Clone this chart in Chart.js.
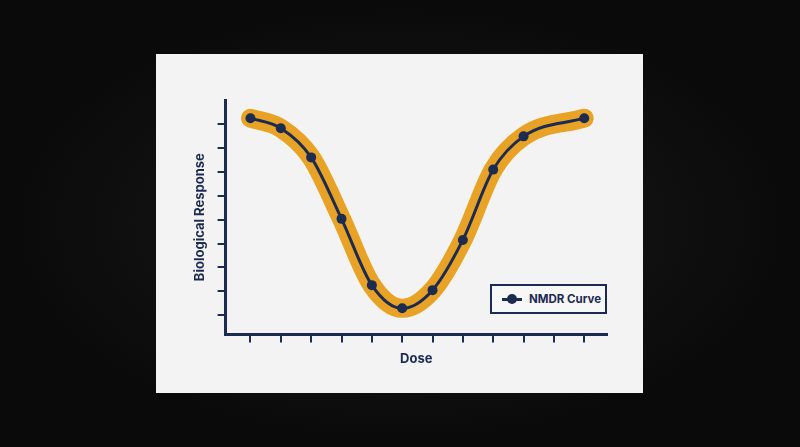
<!DOCTYPE html>
<html>
<head>
<meta charset="utf-8">
<script src="https://cdn.jsdelivr.net/npm/chart.js@4.4.1/dist/chart.umd.min.js"></script>
<style>
  html, body { margin: 0; padding: 0; width: 800px; height: 447px; overflow: hidden;
    background: radial-gradient(ellipse at center, #1a1a1a 0%, #0a0a0a 70%); font-family: Inter, sans-serif; }
  .card { position: absolute; left: 156px; top: 54px; width: 487px; height: 339px; background: #f3f3f4; }
  canvas { position: absolute; left: 0; top: 0; }
  .legend { position: absolute; left: 334px; top: 230px; width: 113px; height: 26px;
    border: 2px solid #1c2b52; background: #f7f7f8; display: flex; align-items: center; white-space: nowrap;
    font-size: 11.5px; font-weight: 700; color: #1c2b52; }
  .legend .sw { position: relative; flex: none; width: 20px; height: 3px; background: #1c2b52; margin: 0 7px 0 10px; }
  .legend .sw::after { content: ''; position: absolute; left: 5px; top: -4px; width: 10px; height: 10px;
    border-radius: 50%; background: #1c2b52; }
</style>
</head>
<body>
<div class="card">
  <canvas id="chart" width="487" height="339"></canvas>
  <div class="legend"><span class="sw"></span>NMDR Curve</div>
</div>
<script>
  const doses = [0, 1, 2, 3, 4, 5, 6, 7, 8, 9, 11];
  const responses = [9.24, 8.82, 7.6, 5.03, 2.26, 1.29, 2.05, 4.15, 7.09, 8.48, 9.24];
  const xTicks = [0, 1, 2, 3, 4, 5, 6, 7, 8, 9, 10, 11];
  const yTicks = [1, 2, 3, 4, 5, 6, 7, 8, 9];

  const navy = '#1c2b52';
  const orange = '#e8a326';
  const points = doses.map((d, i) => ({ x: d, y: responses[i] }));

  const ctx = document.getElementById('chart').getContext('2d');
  new Chart(ctx, {
    type: 'line',
    data: {
      datasets: [
        { data: points, borderColor: navy, borderWidth: 3, cubicInterpolationMode: 'monotone',
          pointRadius: 5, pointBackgroundColor: navy, pointBorderWidth: 0, order: 0 },
        { data: points, borderColor: orange, borderWidth: 19, cubicInterpolationMode: 'monotone',
          pointRadius: 0, borderCapStyle: 'round', borderJoinStyle: 'round', order: 1 }
      ]
    },
    options: {
      responsive: false,
      animation: false,
      layout: { padding: { left: 32, right: 36, top: 46, bottom: 22 } },
      plugins: { legend: { display: false }, tooltip: { enabled: false } },
      scales: {
        x: {
          type: 'linear', min: -0.82, max: 11.75,
          afterBuildTicks: s => { s.ticks = xTicks.map(v => ({ value: v })); },
          ticks: { display: false },
          grid: { drawOnChartArea: false, drawTicks: true, tickLength: 8, color: navy, lineWidth: 2 },
          border: { color: navy, width: 3 },
          title: { display: true, text: 'Dose', color: navy, font: { family: 'Inter', size: 13, weight: 'bold' }, padding: { top: 9 } }
        },
        y: {
          min: 0.2, max: 10,
          afterBuildTicks: s => { s.ticks = yTicks.map(v => ({ value: v })); },
          ticks: { display: false },
          grid: { drawOnChartArea: false, drawTicks: true, tickLength: 8, color: navy, lineWidth: 2 },
          border: { color: navy, width: 3 },
          title: { display: true, text: 'Biological Response', color: navy, font: { family: 'Inter', size: 13, weight: 'bold' }, padding: { bottom: 10 } }
        }
      }
    }
  });
</script>
</body>
</html>
